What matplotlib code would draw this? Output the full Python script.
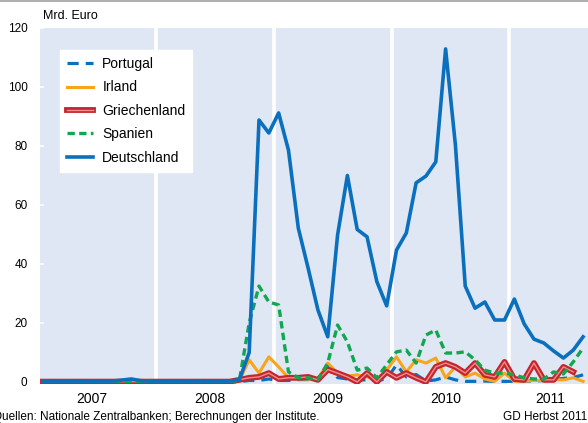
import matplotlib
matplotlib.use("Agg")
import matplotlib.pyplot as plt
import matplotlib.patheffects as pe
import numpy as np

plt.rcParams['font.family'] = ['Liberation Sans', 'DejaVu Sans']

# monthly values Jan 2007 .. Aug 2011 (Mrd. Euro)
months = np.arange(56)

portugal = [0.1] * 21 + [0.5, 0.5, 1.0, 0.5, 0.5, 0.8, 0.8, 0.5, 6.0, 1.5,
                         1.0, 0.5, 0.8, 0.5, 1.0, 5.8, 1.7, 2.5, 0.3, 0.7,
                         1.7, 0.7, 0.2, 0.2, 0.3, 0.2, 0.2, 0.2, 0.3, 0.3,
                         0.5, 0.8, 1.2, 1.5, 2.4]
irland = [0.2] * 20 + [0.5, 7.5, 3.0, 8.5, 5.1, 1.4, 1.0, 1.0, 1.0, 6.4,
                       3.0, 2.0, 2.4, 1.7, 1.0, 4.0, 8.5, 3.4, 7.5, 6.4,
                       8.1, 1.4, 5.1, 1.7, 3.0, 1.0, 0.2, 3.0, 0.2, 0.3,
                       0.5, 0.5, 0.8, 0.7, 1.4, 0.2]
griechenland = [0.1] * 20 + [0.7, 1.4, 1.7, 3.0, 1.0, 1.4, 1.4, 1.7, 0.7, 4.2,
                             3.0, 1.7, 0.0, 3.0, 0.0, 3.4, 1.4, 3.0, 1.4, 0.0,
                             5.1, 6.4, 5.1, 3.0, 6.4, 2.4, 1.7, 6.8, 1.0, 0.7,
                             6.4, 0.7, 0.7, 5.1, 3.4, np.nan]
spanien = [0.2] * 20 + [0.5, 20.0, 32.5, 27.1, 26.1, 3.4, 1.4, 1.4, 0.7, 6.4,
                        19.3, 13.6, 4.0, 4.7, 1.4, 5.8, 10.2, 10.8, 6.4, 15.9,
                        17.6, 9.8, 9.8, 10.2, 7.5, 4.0, 3.0, 3.0, 2.4, 1.4,
                        1.0, 1.0, 3.4, 2.7, 6.8, 11.5]
deutschland = [0.3, 0.3, 0.3, 0.3, 0.3, 0.3, 0.3, 0.3, 0.6, 1.0,
               0.4, 0.3, 0.3, 0.3, 0.3, 0.3, 0.3, 0.3, 0.3, 0.3,
               0.7, 10.0, 88.8, 84.4, 91.2, 78.6, 52.2, 38.6, 24.4, 15.3,
               49.8, 70.0, 51.7, 49.2, 34.0, 25.8, 44.7, 50.5, 67.5, 69.8,
               74.6, 112.9, 80.3, 32.5, 25.0, 27.1, 21.0, 21.0, 28.1, 19.7,
               14.5, 13.2, 10.5, 8.1, 10.8, 15.3]

years = ['2007', '2008', '2009', '2010', '2011']
year_pos = [5, 17, 29, 41, 51.7]
year_breaks = [11.5, 23.5, 35.5, 47.5]

fig = plt.figure(figsize=(5.88, 4.23), dpi=100)
ax = fig.add_axes([40 / 588, 1 - 384 / 423, 548 / 588, 356 / 423])
ax.set_facecolor('#E0E7F4')

for b in year_breaks:
    ax.axvline(b, color='white', lw=2.6, zorder=1)

blue = '#0A70BE'
ax.plot(months, portugal, color=blue, lw=2.3, dashes=(3.5, 2.2), label='Portugal', zorder=3)
ax.plot(months, irland, color='#F9A51A', lw=2.2, label='Irland', zorder=3)
ax.plot(months, griechenland, color='#F08C8C', lw=1.0, label='Griechenland', zorder=3,
        path_effects=[pe.Stroke(linewidth=4.2, foreground='#C4262E'), pe.Normal()])
ax.plot(months, spanien, color='#10A84E', lw=2.4, dashes=(2.2, 1.3), label='Spanien', zorder=3)
ax.plot(months, deutschland, color=blue, lw=2.6, label='Deutschland', zorder=4)

ax.set_xlim(-0.3, 55.5)
ax.set_ylim(-0.7, 120)
ax.set_yticks([0, 20, 40, 60, 80, 100, 120])
ax.set_xticks(year_pos)
ax.set_xticklabels(years, fontsize=10)
ax.tick_params(axis='x', length=0, pad=6)
ax.tick_params(axis='y', direction='in', length=3, width=1.2, color='white',
               labelsize=8.5, pad=9)
for s in ax.spines.values():
    s.set_visible(False)

leg = ax.legend(loc='upper left', bbox_to_anchor=(20 / 548, 1 - 22 / 356),
                fontsize=10, frameon=True, fancybox=False, framealpha=1,
                edgecolor='white', facecolor='white', handlelength=1.9,
                handletextpad=0.65, labelspacing=0.68, borderpad=0.5,
                borderaxespad=0)
leg.set_zorder(5)

fig.text(43 / 588, 1 - 16 / 423, 'Mrd. Euro', fontsize=9, va='center', ha='left')
fig.text(-7 / 588, 3 / 423, 'Quellen: Nationale Zentralbanken; Berechnungen der Institute.',
         fontsize=8.5, va='baseline', ha='left')
fig.text(587 / 588, 3 / 423, 'GD Herbst 2011', fontsize=8.5, va='baseline', ha='right')
fig.add_artist(plt.Line2D([0, 1], [1 - 1 / 423, 1 - 1 / 423], color='#A0A0A0', lw=1.2))

fig.savefig('out.png', dpi=100)
